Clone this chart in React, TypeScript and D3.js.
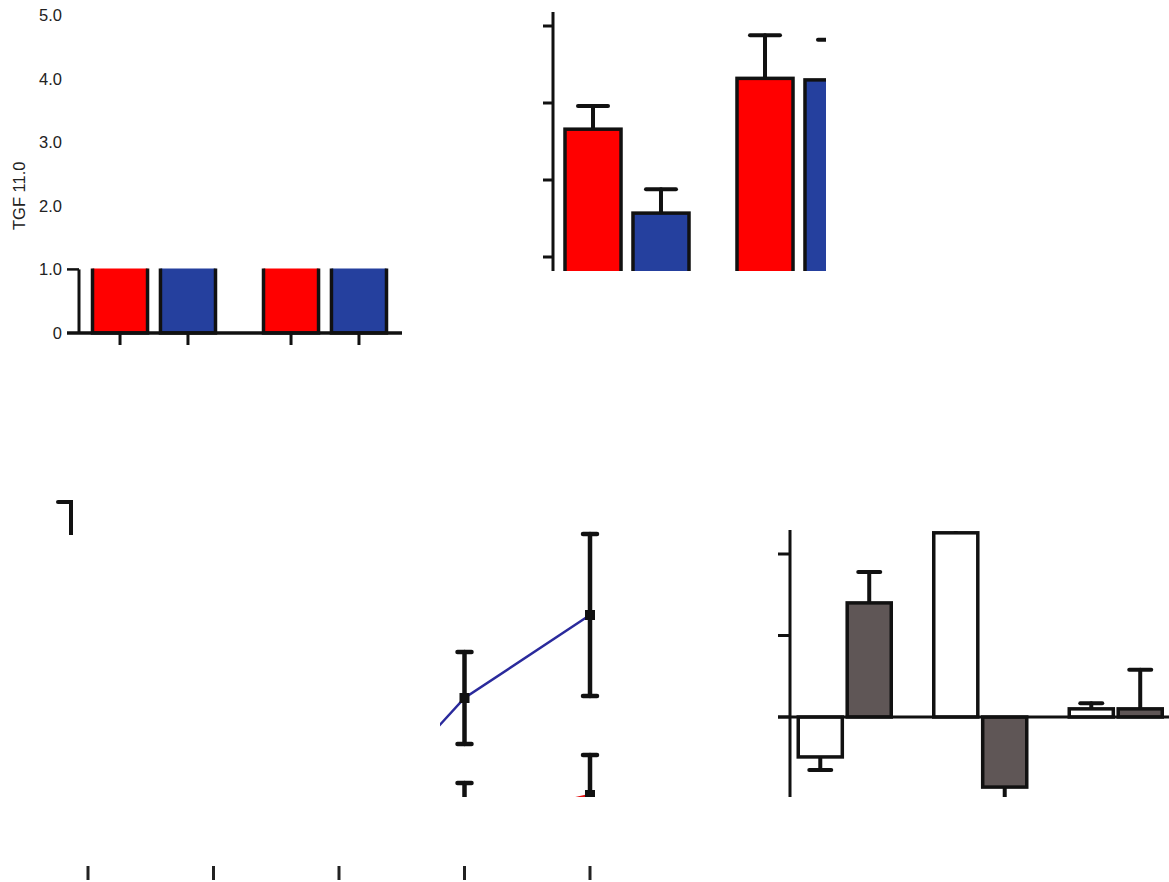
import React from 'react';
import * as d3 from 'd3';

// panel A: grouped bars, y axis 0..5 (only the part below 1.0 is visible)
const aGroups = ['G1', 'G2'];
const aSeries = ['red', 'blue'];
const aRed = [1.6, 1.7];
const aBlue = [1.5, 1.6];
const aTicks = [0, 1, 2, 3, 4, 5];
const aLabel = 'TGF 11.0';

// panel B: grouped bars with error bars
const bGroups = ['G1', 'G2'];
const bRed = [2.66, 3.32];
const bRedErr = [0.3, 0.56];
const bBlue = [1.57, 3.3];
const bBlueErr = [0.31, 0.52];
const bTicks = [1, 2, 3, 4];

// panel C: time course lines
const cTimes = ['t0', 't1', 't2', 't3', 't4'];
const cBlue = [3.0, 5.0, 7.75, 42, 62.75];
const cBlueErr = [2.0, 3.0, 4.0, 11.5, 20.25];
const cRed = [2.0, 3.5, 5.0, 10.75, 17.75];
const cRedErr = [1.5, 2.0, 3.0, 10, 10];

// panel D: stray error bar fragment
const dGroups = ['n'];
const dMean = [1.0];
const dErr = [0.38];

// panel E: paired bars around zero
const eGroups = ['E1', 'E2', 'E3'];
const eWhite = [-0.49, 2.26, 0.1];
const eWhiteErr = [0.16, 0.2, 0.07];
const eGray = [1.4, -0.86, 0.1];
const eGrayErr = [0.38, 0.3, 0.48];
const eTicks = [0, 1, 2];

const RED = '#ff0000';
const BLUE = '#25409e';
const GRAY = '#5f5656';
const INK = '#111';
const FONT = '"Liberation Sans", Arial, sans-serif';

function ErrBar({ x, y0, y1, cap, w = 4 }: { x: number; y0: number; y1: number; cap: number; w?: number }) {
  return (
    <g stroke={INK} strokeWidth={w} strokeLinecap="round">
      <line x1={x} x2={x} y1={y0} y2={y1} />
      <line x1={x - cap / 2} x2={x + cap / 2} y1={y1} y2={y1} />
    </g>
  );
}

export default function App() {
  // ---- panel A
  const yA = d3.scaleLinear().domain([0, 5]).range([333, 15]);
  const xA = d3.scaleBand().domain(aGroups).range([69, 411]);
  const iA = d3.scaleBand().domain(aSeries).range([23.5, 146.5]).paddingInner(0.19);

  // ---- panel B
  const yB = d3.scaleLinear().domain([0, 4]).range([334, 26]);
  const xB = d3.scaleBand().domain(bGroups).range([541, 885]);
  const iB = d3.scaleBand().domain(aSeries).range([24, 148]).paddingInner(0.176);

  // ---- panel C
  const xC = d3.scalePoint().domain(cTimes).range([88, 590]);
  const yC = d3.scaleLinear().domain([0, 100]).range([866, 466]);
  const line = d3.line<number>().x((_, i) => xC(cTimes[i])!).y(d => yC(d));

  // ---- panel D
  const xD = d3.scaleBand().domain(dGroups).range([40, 102]);
  const yD = d3.scaleLinear().domain([0, 1.5]).range([640, 490]);

  // ---- panel E
  const yE = d3.scaleLinear().domain([-1, 3]).range([798.5, 472.5]);
  const xE = d3.scaleBand().domain(eGroups).range([777, 1183.5]);
  const iE = d3.scaleBand().domain(['white', 'gray']).range([21.25, 114.25]).paddingInner(0.1);

  const aVals = [aRed, aBlue];
  const bVals = [bRed, bBlue];
  const bErrs = [bRedErr, bBlueErr];
  const aFill = [RED, BLUE];

  return (
    <svg width={1169} height={882} style={{ position: 'absolute', left: 0, top: 0, background: '#fff' }} fontFamily={FONT}>
      <defs>
        <clipPath id="clipA"><rect x={60} y={yA(1) - 1} width={355} height={80} /></clipPath>
        <clipPath id="clipB"><rect x={540} y={0} width={286} height={271} /></clipPath>
        <clipPath id="clipC"><rect x={440} y={530} width={165} height={267} /></clipPath>
        <clipPath id="clipD"><rect x={40} y={495} width={33} height={40} /></clipPath>
        <clipPath id="clipE"><rect x={770} y={531} width={399} height={266} /></clipPath>
      </defs>

      {/* panel A */}
      <g>
        {aTicks.map(t => (
          <text key={t} x={62} y={yA(t)} textAnchor="end" dominantBaseline="central" fontSize={16.5} fill="#222">
            {t === 0 ? '0' : t.toFixed(1)}
          </text>
        ))}
        <text transform={`translate(19,${yA(2) - 10}) rotate(-90)`} textAnchor="middle" dominantBaseline="central" fontSize={16.5} fill="#222">
          {aLabel}
        </text>
        <g clipPath="url(#clipA)">
          {aGroups.map((g, gi) =>
            aSeries.map((s, si) => (
              <rect key={g + s} x={xA(g)! + iA(s)!} y={yA(aVals[si][gi])} width={iA.bandwidth()}
                height={yA(0) - yA(aVals[si][gi])} fill={aFill[si]} stroke={INK} strokeWidth={3.5} />
            ))
          )}
        </g>
        <line x1={79} x2={79} y1={yA(1)} y2={yA(0)} stroke={INK} strokeWidth={3} />
        <line x1={67} x2={79} y1={yA(1)} y2={yA(1)} stroke={INK} strokeWidth={2.5} />
        <line x1={67} x2={402} y1={yA(0)} y2={yA(0)} stroke={INK} strokeWidth={3.5} />
        {aGroups.map(g => aSeries.map(s => {
          const cx = xA(g)! + iA(s)! + iA.bandwidth() / 2;
          return <line key={g + s} x1={cx} x2={cx} y1={yA(0)} y2={yA(0) + 12} stroke={INK} strokeWidth={3} />;
        }))}
      </g>

      {/* panel B */}
      <g>
        <g clipPath="url(#clipB)">
          {bGroups.map((g, gi) =>
            aSeries.map((s, si) => {
              const x0 = xB(g)! + iB(s)!;
              const v = bVals[si][gi];
              const cx = x0 + iB.bandwidth() / 2;
              return (
                <g key={g + s}>
                  <ErrBar x={cx} y0={yB(v)} y1={yB(v + bErrs[si][gi])} cap={30} />
                  <rect x={x0} y={yB(v)} width={iB.bandwidth()} height={yB(0) - yB(v)}
                    fill={aFill[si]} stroke={INK} strokeWidth={3.5} />
                </g>
              );
            })
          )}
        </g>
        <line x1={553} x2={553} y1={12} y2={271} stroke={INK} strokeWidth={3} />
        {bTicks.map(t => (
          <line key={t} x1={543} x2={553} y1={yB(t)} y2={yB(t)} stroke={INK} strokeWidth={3} />
        ))}
      </g>

      {/* panel C */}
      <g>
        <g clipPath="url(#clipC)">
          <path d={line(cRed)!} fill="none" stroke="#e01010" strokeWidth={2.5} />
          <path d={line(cBlue)!} fill="none" stroke="#2a2a9c" strokeWidth={2.5} />
          {cTimes.map((t, i) => (
            <g key={t}>
              <ErrBar x={xC(t)!} y0={yC(cBlue[i] - cBlueErr[i])} y1={yC(cBlue[i] + cBlueErr[i])} cap={14} w={4.5} />
              <line x1={xC(t)! - 7} x2={xC(t)! + 7} y1={yC(cBlue[i] - cBlueErr[i])} y2={yC(cBlue[i] - cBlueErr[i])}
                stroke={INK} strokeWidth={4.5} strokeLinecap="round" />
              <rect x={xC(t)! - 5} y={yC(cBlue[i]) - 5} width={10} height={10} fill={INK} />
              <ErrBar x={xC(t)!} y0={yC(cRed[i] - cRedErr[i])} y1={yC(cRed[i] + cRedErr[i])} cap={14} w={4.5} />
              <rect x={xC(t)! - 5} y={yC(cRed[i]) - 5} width={10} height={10} fill={INK} />
            </g>
          ))}
        </g>
        {cTimes.map(t => (
          <line key={t} x1={xC(t)!} x2={xC(t)!} y1={866} y2={880} stroke="#222" strokeWidth={3} />
        ))}
      </g>

      {/* panel D */}
      <g clipPath="url(#clipD)">
        {dGroups.map((g, i) => {
          const cx = xD(g)! + xD.bandwidth() / 2;
          return <ErrBar key={g} x={cx} y0={yD(dMean[i])} y1={yD(dMean[i] + dErr[i])} cap={26} w={4} />;
        })}
      </g>

      {/* panel E */}
      <g>
        <g clipPath="url(#clipE)">
          {eGroups.map((g, gi) =>
            (['white', 'gray'] as const).map(s => {
              const v = s === 'white' ? eWhite[gi] : eGray[gi];
              const err = s === 'white' ? eWhiteErr[gi] : eGrayErr[gi];
              const x0 = xE(g)! + iE(s)!;
              const cx = x0 + iE.bandwidth() / 2;
              const end = v >= 0 ? v + err : v - err;
              return (
                <g key={g + s}>
                  <ErrBar x={cx} y0={yE(v)} y1={yE(end)} cap={22} />
                  <rect x={x0} y={Math.min(yE(v), yE(0))} width={iE.bandwidth()} height={Math.abs(yE(v) - yE(0))}
                    fill={s === 'white' ? '#fff' : GRAY} stroke={INK} strokeWidth={3.5} />
                </g>
              );
            })
          )}
        </g>
        <line x1={790} x2={790} y1={530} y2={797} stroke={INK} strokeWidth={3} />
        {eTicks.map(t => (
          <line key={t} x1={778} x2={790} y1={yE(t)} y2={yE(t)} stroke={INK} strokeWidth={3} />
        ))}
        <line x1={778} x2={1169} y1={yE(0)} y2={yE(0)} stroke={INK} strokeWidth={3} />
      </g>
    </svg>
  );
}
